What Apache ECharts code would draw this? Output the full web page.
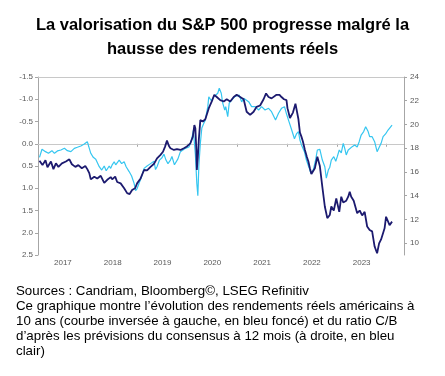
<!DOCTYPE html>
<html><head><meta charset="utf-8">
<script src="https://cdn.jsdelivr.net/npm/echarts@6/dist/echarts.min.js"></script>
<style>html,body{margin:0;padding:0;background:#fff}#c{width:445px;height:376px}</style>
</head><body><div id="c"></div>
<script>
// Real 10y US yields (left axis, inverted) — decimal years and values
const yieldDates = [2017.03,2017.09,2017.15,2017.19,2017.26,2017.31,2017.36,2017.41,2017.48,2017.56,2017.63,2017.68,2017.75,2017.81,2017.88,2017.95,2017.99,
2018.03,2018.06,2018.13,2018.19,2018.26,2018.33,2018.39,2018.46,2018.49,2018.55,2018.59,2018.66,2018.73,2018.79,2018.84,2018.89,2018.95,2018.99,
2019.06,2019.13,2019.19,2019.26,2019.33,2019.39,2019.46,2019.51,2019.55,2019.59,2019.63,2019.66,2019.73,2019.79,2019.86,2019.93,2019.99,
2020.06,2020.11,2020.14,2020.16,2020.18,2020.19,2020.21,2020.23,2020.26,2020.31,2020.36,2020.43,2020.49,2020.54,2020.59,2020.66,2020.73,2020.79,2020.86,2020.93,2020.99,
2021.06,2021.13,2021.19,2021.26,2021.33,2021.39,2021.46,2021.53,2021.58,2021.63,2021.69,2021.73,2021.79,2021.85,2021.89,2021.94,2021.99,
2022.01,2022.06,2022.12,2022.17,2022.23,2022.26,2022.29,2022.32,2022.36,2022.40,2022.43,2022.46,2022.49,2022.52,2022.56,2022.61,2022.66,2022.71,2022.76,2022.81,2022.86,2022.89,2022.94,2022.99,
2023.05,2023.09,2023.13,2023.19,2023.23,2023.26,2023.29,2023.34,2023.38,2023.41,2023.46,2023.51,2023.56,2023.61,2023.66,2023.71,2023.76,2023.81,2023.85,2023.89,2023.96,2023.99,
2024.03,2024.06,2024.11];
const yieldValues = [0.38,0.48,0.37,0.53,0.40,0.57,0.44,0.52,0.44,0.40,0.35,0.46,0.52,0.48,0.55,0.50,0.57,
0.66,0.80,0.74,0.78,0.72,0.88,0.81,0.75,0.80,0.74,0.86,0.89,1.00,1.11,1.13,1.04,1.00,0.89,
0.78,0.59,0.60,0.52,0.45,0.33,0.25,0.18,0.07,-0.07,0.05,0.10,0.14,0.12,0.14,0.10,0.06,
-0.01,-0.16,-0.42,-0.35,0.14,0.59,0.30,-0.10,-0.53,-0.50,-0.55,-0.80,-0.95,-1.10,-1.05,-0.98,-0.95,-1.00,-0.95,-1.05,-1.10,
-1.05,-1.00,-0.72,-0.65,-0.72,-0.83,-0.86,-1.00,-1.13,-1.05,-1.02,-1.02,-1.10,-1.10,-1.05,-1.00,-0.98,
-0.80,-0.58,-0.70,-0.90,-0.55,-0.25,-0.16,-0.05,0.14,0.30,0.40,0.55,0.68,0.70,0.55,0.29,0.50,0.97,1.41,1.67,1.60,1.41,1.50,1.23,
1.53,1.19,1.32,1.28,1.19,1.08,1.19,1.28,1.32,1.56,1.50,1.61,1.53,1.86,1.94,1.97,2.31,2.46,2.24,2.15,1.90,1.64,
1.68,1.83,1.75];

// 12-month forward P/E (right axis)
const peDates = [2017.03,2017.08,2017.15,2017.21,2017.28,2017.33,2017.39,2017.46,2017.53,2017.59,2017.66,2017.73,2017.79,2017.86,2017.93,2017.99,
2018.03,2018.06,2018.11,2018.16,2018.19,2018.23,2018.28,2018.33,2018.37,2018.43,2018.46,2018.49,2018.53,2018.56,2018.63,2018.68,2018.73,2018.77,2018.83,2018.88,2018.93,2018.96,2018.99,
2019.03,2019.08,2019.13,2019.19,2019.26,2019.33,2019.36,2019.39,2019.44,2019.49,2019.53,2019.57,2019.61,2019.66,2019.69,2019.74,2019.77,2019.81,2019.86,2019.89,2019.96,
2020.03,2020.06,2020.09,2020.12,2020.16,2020.19,2020.21,2020.23,2020.26,2020.29,2020.33,2020.36,2020.41,2020.43,2020.48,2020.53,2020.56,2020.61,2020.64,2020.68,2020.71,2020.75,2020.77,2020.81,2020.84,2020.89,2020.95,2020.99,
2021.04,2021.09,2021.13,2021.17,2021.23,2021.29,2021.36,2021.43,2021.49,2021.56,2021.63,2021.69,2021.73,2021.77,2021.83,2021.89,2021.95,2021.99,
2022.04,2022.09,2022.15,2022.19,2022.23,2022.26,2022.29,2022.35,2022.39,2022.44,2022.48,2022.53,2022.57,2022.61,2022.66,2022.71,2022.76,2022.79,2022.83,2022.86,2022.89,2022.94,2022.98,
2023.01,2023.05,2023.09,2023.13,2023.16,2023.19,2023.23,2023.26,2023.31,2023.36,2023.41,2023.45,2023.49,2023.54,2023.58,2023.63,2023.66,2023.71,2023.76,2023.81,2023.85,2023.89,2023.93,2023.98,
2024.03,2024.06,2024.11];
const peValues = [17.23,17.91,17.71,17.57,17.79,17.57,17.77,17.85,17.99,17.79,17.71,17.99,18.08,18.19,18.36,18.55,
18.55,17.57,17.23,17.07,17.07,16.44,16.16,16.50,16.10,16.50,16.30,16.60,16.86,16.60,17.00,16.70,16.86,16.44,16.03,15.66,15.04,14.42,14.60,
15.04,15.60,16.30,16.50,16.70,16.90,16.20,16.44,17.00,17.20,17.50,17.00,16.70,17.00,17.30,16.60,16.70,17.10,17.71,17.85,17.99,
18.10,18.40,18.83,19.50,17.50,15.00,14.00,16.50,18.40,19.70,20.10,20.38,21.50,22.34,22.00,22.34,22.20,22.63,23.05,22.63,21.80,21.22,21.50,20.66,21.80,22.06,22.34,22.48,
22.48,21.90,22.20,22.34,21.92,21.50,21.50,21.22,21.50,21.22,21.36,21.08,20.94,20.38,20.94,21.36,21.50,20.90,
20.24,19.60,18.80,19.20,19.40,18.69,18.30,17.71,17.00,16.40,15.89,16.20,16.90,17.85,17.90,17.00,16.44,15.47,16.16,16.40,17.00,17.29,16.90,
17.29,17.85,17.60,18.41,17.99,17.43,17.85,17.99,18.13,18.27,18.10,18.55,19.11,19.40,19.81,19.40,18.97,18.97,18.55,17.71,17.57,18.41,18.97,19.20,
19.53,19.40,19.95];

const yearLabels = [2017,2018,2019,2020,2021,2022,2023];
const yearBoundaries = [2018,2019,2020,2021,2022,2023,2024];
const rightTicks = [10,12,14,16,18,20,22,24];

const titleText = 'La valorisation du S&P 500 progresse malgré la\nhausse des rendements réels';
const footerText = 'Sources : Candriam, Bloomberg©, LSEG Refinitiv\nCe graphique montre l’évolution des rendements réels américains à\n10 ans (courbe inversée à gauche, en bleu foncé) et du ratio C/B\nd’après les prévisions du consensus à 12 mois (à droite, en bleu\nclair)';

const FONT = '"Liberation Sans", Arial, sans-serif';
const axisGray = '#a6a6a6';
const labelGray = '#595959';

const chart = echarts.init(document.getElementById('c'), null, {renderer: 'canvas'});
chart.setOption({
  animation: false,
  backgroundColor: '#fff',
  title: {
    text: titleText, left: 'center', top: 8,
    textStyle: {fontFamily: FONT, fontSize: 16.5, fontWeight: 'bold', color: '#000', lineHeight: 24}
  },
  graphic: [{
    type: 'text', left: 16, top: 284,
    style: {text: footerText, fontFamily: FONT, fontSize: 13.3, lineHeight: 15, fill: '#000'}
  }],
  grid: {left: 38, right: 41, top: 77, bottom: 121, containLabel: false},
  xAxis: {
    type: 'value', min: 2017, max: 2024.35,
    axisLine: {show: true, lineStyle: {color: axisGray}},
    axisTick: {show: true, length: 3, customValues: yearBoundaries, lineStyle: {color: axisGray}},
    axisLabel: {customValues: yearLabels.map(y => y + 0.5), formatter: v => String(Math.floor(v)),
      fontFamily: FONT, fontSize: 8, color: labelGray, margin: 4},
    splitLine: {show: false}
  },
  yAxis: [{
    type: 'value', inverse: true, min: -1.5, max: 2.5, interval: 0.5, position: 'left',
    axisLine: {show: true, lineStyle: {color: axisGray}},
    axisTick: {show: true, length: 3, lineStyle: {color: axisGray}},
    axisLabel: {formatter: v => v.toFixed(1), fontFamily: FONT, fontSize: 8, color: labelGray, margin: 5},
    splitLine: {show: false}
  }, {
    type: 'value', min: 9, max: 24, position: 'right',
    axisLine: {show: true, lineStyle: {color: axisGray}},
    axisTick: {show: true, length: 3, customValues: rightTicks, lineStyle: {color: axisGray}},
    axisLabel: {customValues: rightTicks, fontFamily: FONT, fontSize: 8, color: labelGray, margin: 6},
    splitLine: {show: false}
  }],
  series: [{
    name: 'C/B', type: 'line', yAxisIndex: 1, showSymbol: false, symbol: 'none',
    data: peDates.map((d, i) => [d, peValues[i]]),
    lineStyle: {color: '#35c6f0', width: 1.2}, z: 2
  }, {
    name: 'Rendements réels', type: 'line', yAxisIndex: 0, showSymbol: false, symbol: 'none',
    data: yieldDates.map((d, i) => [d, yieldValues[i]]),
    lineStyle: {color: '#1c1a6f', width: 1.8}, z: 3,
    markLine: {silent: true, symbol: 'none', label: {show: false},
      lineStyle: {color: '#c8c8c8', width: 1, type: 'solid'},
      data: [{yAxis: 0}, {yAxis: -1.5}], z: 1}
  }]
});
</script></body></html>
